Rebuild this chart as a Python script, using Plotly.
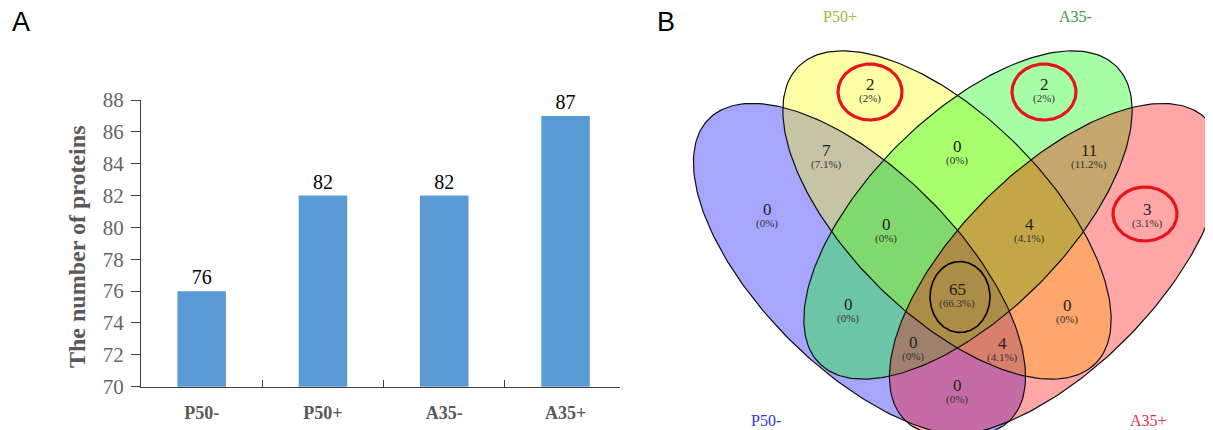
import numpy as np
import plotly.graph_objects as go

W, H = 1213, 430
OFF = 8  # page body margin of the html page (figure starts 8px in)

# ---------------- Data ----------------
categories = ["P50-", "P50+", "A35-", "A35+"]
protein_counts = [76, 82, 82, 87]
y_ticks = [70, 72, 74, 76, 78, 80, 82, 84, 86, 88]

set_names = ["P50-", "P50+", "A35-", "A35+"]
# Venn region counts (membership in P50-, P50+, A35-, A35+)
region_keys = ["1000", "0100", "0010", "0001", "1100", "0110", "0011",
               "1110", "0111", "1111", "1010", "0101", "1011", "1101", "1001"]
region_counts = [0, 2, 2, 3, 7, 0, 11, 0, 4, 65, 0, 0, 0, 4, 0]
highlighted_regions = ["0100", "0010", "0001"]
core_region = "1111"

# ---------------- Layout / style (pixel geometry of the Venn panel) ----------------
# ellipse: centre x, centre y, semi-major, semi-minor, angle (deg, screen coords)
ellipse_geom = [
    (859.5, 269.5, 213, 99, 45),
    (947, 215, 210, 99, 45),
    (968, 215, 210, 99, 135),
    (1055.5, 269.5, 213, 99, 135),
]
fill_colors = ["rgba(0,0,255,0.35)", "rgba(255,255,0,0.35)",
               "rgba(0,255,0,0.35)", "rgba(255,0,0,0.35)"]
set_label_pos = [(766, 420), (840, 16), (1075, 16), (1148, 420)]
set_label_colors = ["#3535E0", "#B0B040", "#3C9A3C", "#E03050"]
region_label_pos = {
    "1000": (767, 209), "0100": (870, 84), "0010": (1044, 84), "0001": (1147, 209),
    "1100": (826, 150), "0110": (957, 146), "0011": (1089, 150),
    "1110": (886, 224), "0111": (1029, 224), "1111": (957, 289),
    "1010": (848, 304), "0101": (1067, 305), "1011": (913, 342),
    "1101": (1002, 343), "1001": (957, 385),
}
highlight_geom = {"0100": (870, 92, 32, 28), "0010": (1044, 92, 32, 28),
                  "0001": (1145, 214, 32, 27)}
core_geom = (960, 297, 30, 35.5)

SERIF = "Liberation Serif"
bar_color = "#5B9BD5"
axis_color = "#404040"


def fx(p):
    return (p - OFF) / W


def fy(p):
    return 1 - (p - OFF) / H


def ellipse_pts(cx, cy, a, b, ang, n=240):
    t = np.linspace(0, 2 * np.pi, n)
    th = np.deg2rad(ang)
    x = cx + a * np.cos(t) * np.cos(th) - b * np.sin(t) * np.sin(th)
    y = cy + a * np.cos(t) * np.sin(th) + b * np.sin(t) * np.cos(th)
    return x, y


def pct_text(c, total):
    p = round(100.0 * c / total, 1)
    s = f"{p:.1f}"
    if s.endswith(".0"):
        s = s[:-2]
    return f"({s}%)"


fig = go.Figure()

# ---------------- Panel A: bar chart ----------------
fig.add_trace(go.Bar(
    x=categories, y=protein_counts, width=0.4,
    marker=dict(color=bar_color, line=dict(width=0)),
    text=[str(v) for v in protein_counts], textposition="outside",
    textfont=dict(family=SERIF, size=20, color="black"),
    cliponaxis=False, xaxis="x", yaxis="y", showlegend=False,
))

# ---------------- Panel B: Venn diagram ----------------
for (g, fc) in zip(ellipse_geom, fill_colors):
    ex, ey = ellipse_pts(*g)
    fig.add_trace(go.Scatter(x=ex, y=ey, mode="lines", fill="toself",
                             fillcolor=fc, line=dict(width=0),
                             xaxis="x2", yaxis="y2", showlegend=False,
                             hoverinfo="skip"))
for g in ellipse_geom:
    ex, ey = ellipse_pts(*g)
    fig.add_trace(go.Scatter(x=ex, y=ey, mode="lines",
                             line=dict(color="#111111", width=1.2),
                             xaxis="x2", yaxis="y2", showlegend=False,
                             hoverinfo="skip"))
for key in highlighted_regions:
    cx, cy, rx, ry = highlight_geom[key]
    ex, ey = ellipse_pts(cx, cy, rx, ry, 0)
    fig.add_trace(go.Scatter(x=ex, y=ey, mode="lines",
                             line=dict(color="#E8141C", width=3.2),
                             xaxis="x2", yaxis="y2", showlegend=False,
                             hoverinfo="skip"))
cx, cy, rx, ry = core_geom
ex, ey = ellipse_pts(cx, cy, rx, ry, 0)
fig.add_trace(go.Scatter(x=ex, y=ey, mode="lines",
                         line=dict(color="black", width=1.6),
                         xaxis="x2", yaxis="y2", showlegend=False,
                         hoverinfo="skip"))

total = sum(region_counts)
annotations = []
for key, c in zip(region_keys, region_counts):
    x, y = region_label_pos[key]
    annotations.append(dict(x=x, y=y, xref="x2", yref="y2", text=str(c),
                            showarrow=False, xanchor="center", yanchor="middle",
                            font=dict(family=SERIF, size=17, color="#222222")))
    annotations.append(dict(x=x, y=y + 14, xref="x2", yref="y2",
                            text=pct_text(c, total), showarrow=False,
                            xanchor="center", yanchor="middle",
                            font=dict(family=SERIF, size=11, color="#333333")))
for name, (x, y), col in zip(set_names, set_label_pos, set_label_colors):
    annotations.append(dict(x=x, y=y, xref="x2", yref="y2", text=name,
                            showarrow=False, xanchor="center", yanchor="middle",
                            font=dict(family=SERIF, size=16, color=col)))

# panel letters and y title
annotations.append(dict(x=fx(21), y=fy(22), xref="paper", yref="paper",
                        text="A", showarrow=False, xanchor="center",
                        yanchor="middle",
                        font=dict(family="Liberation Sans", size=27, color="black")))
annotations.append(dict(x=fx(666), y=fy(22), xref="paper", yref="paper",
                        text="B", showarrow=False, xanchor="center",
                        yanchor="middle",
                        font=dict(family="Liberation Sans", size=27, color="black")))
annotations.append(dict(x=fx(77), y=fy(247), xref="paper", yref="paper",
                        text="<b>The number of proteins</b>", textangle=-90,
                        showarrow=False, xanchor="center", yanchor="middle",
                        font=dict(family=SERIF, size=24, color="#595959")))

y0_px, y1_px = 386.7, 100.0
fig.update_layout(
    width=W, height=H,
    margin=dict(l=0, r=0, t=0, b=0, pad=0, autoexpand=False),
    paper_bgcolor="white", plot_bgcolor="rgba(0,0,0,0)",
    annotations=annotations,
    xaxis=dict(domain=[fx(141), fx(620)], range=[-0.5, 3.449],
               type="category", showline=True, linecolor=axis_color,
               linewidth=1.3, ticks="inside", tickson="boundaries",
               ticklen=7, tickcolor=axis_color, tickwidth=1.2,
               showgrid=False, zeroline=False, ticklabelstandoff=10,
               automargin=False,
               tickfont=dict(family=SERIF, size=18, color="#595959",
                             weight="bold")),
    yaxis=dict(domain=[fy(y0_px), fy(y1_px)], range=[70, 88],
               tickvals=y_ticks, showline=True, linecolor=axis_color,
               linewidth=1.3, ticks="outside", ticklen=9,
               tickcolor=axis_color, tickwidth=1.2, showgrid=False,
               zeroline=False, ticklabelstandoff=3, automargin=False,
               tickfont=dict(family=SERIF, size=21, color="#666666")),
    xaxis2=dict(domain=[fx(640), fx(1213)], range=[640, 1213], visible=False,
                anchor="y2", automargin=False),
    yaxis2=dict(domain=[fy(430), fy(OFF)], range=[430, OFF], visible=False,
                anchor="x2", automargin=False),
)

fig.write_html("out.html")
